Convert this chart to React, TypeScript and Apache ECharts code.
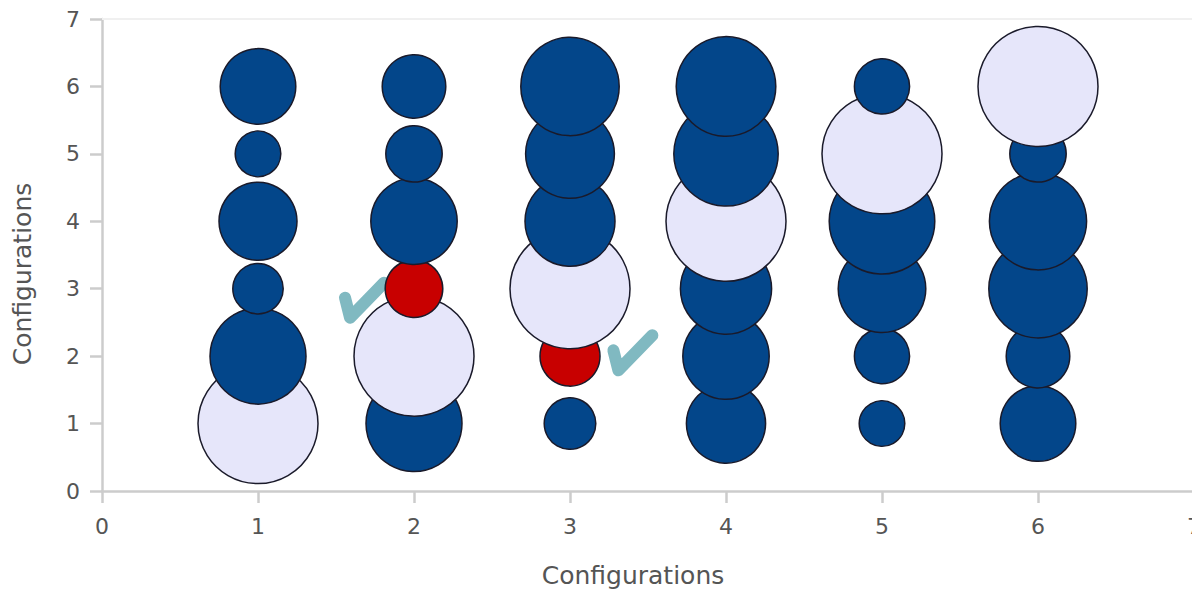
import React, { useEffect, useRef } from "react";
import * as echarts from "echarts";

// Configurations on the x axis, levels on the y axis
const configurations = [1, 2, 3, 4, 5, 6];
const levels = [1, 2, 3, 4, 5, 6];
const xTicks = [0, 1, 2, 3, 4, 5, 6, 7];
const yTicks = [0, 1, 2, 3, 4, 5, 6, 7];

// bubble scores per configuration (rows) for levels 1..6 (columns)
const scores: number[][] = [
  [100, 80, 42, 65, 38, 63],
  [80, 100, 48, 72, 47, 53],
  [43, 50, 100, 75, 74, 82],
  [66, 72, 76, 100, 87, 83],
  [38, 46, 73, 88, 100, 46],
  [63, 53, 82, 81, 47, 100],
];

// highlighted (lavender) and flagged (red) cells: [configuration, level]
const selectedCells = [
  [1, 1],
  [2, 2],
  [3, 3],
  [4, 4],
  [5, 5],
  [6, 6],
];
const flaggedCells = [
  [2, 3],
  [3, 2],
];

// check mark anchors (data coordinates of the check's lower vertex)
const checkMarks = [
  [1.59, 2.57],
  [3.31, 1.79],
];

const axisName = "Configurations";

const DARK = "#03468a";
const LAVENDER = "#e6e6fa";
const RED = "#c80000";
const TEAL = "#80b9c1";
const FONT = "DejaVu Sans";

const isIn = (cells: number[][], c: number, l: number) =>
  cells.some((p) => p[0] === c && p[1] === l);

export default function App() {
  const ref = useRef<HTMLDivElement>(null);

  useEffect(() => {
    if (!ref.current) return;
    const chart = echarts.init(ref.current, undefined, { renderer: "svg" });

    const bubbleData: any[] = [];
    configurations.forEach((c, i) => {
      levels.forEach((l, j) => {
        let color = DARK;
        if (isIn(selectedCells, c, l)) color = LAVENDER;
        else if (isIn(flaggedCells, c, l)) color = RED;
        bubbleData.push({
          value: [c, l, scores[i][j]],
          itemStyle: { color },
        });
      });
    });

    const axisLineStyle = { color: "#cccccc", width: 2.5 };

    chart.setOption({
      animation: false,
      backgroundColor: "#ffffff",
      grid: {
        left: 102,
        top: 19,
        width: 1092,
        height: 472,
        containLabel: false,
        outerBoundsMode: "none",
      },
      xAxis: [
        {
          type: "value",
          min: xTicks[0],
          max: xTicks[xTicks.length - 1],
          interval: 1,
          axisLine: { show: true, onZero: false, lineStyle: axisLineStyle },
          axisTick: { show: true, length: 12, lineStyle: axisLineStyle },
          axisLabel: { margin: 24, fontSize: 22, color: "#555555", fontFamily: FONT },
          splitLine: { show: false },
        },
        {
          type: "value",
          position: "top",
          min: xTicks[0],
          max: xTicks[xTicks.length - 1],
          interval: 1,
          axisLine: { show: true, onZero: false, lineStyle: { color: "#f0f0f0", width: 2 } },
          axisTick: { show: false },
          axisLabel: { show: false },
          splitLine: { show: false },
        },
      ],
      yAxis: {
        type: "value",
        min: yTicks[0],
        max: yTicks[yTicks.length - 1],
        interval: 1,
        axisLine: { show: true, onZero: false, lineStyle: axisLineStyle },
        axisTick: { show: true, length: 12, lineStyle: axisLineStyle },
        axisLabel: { margin: 22, fontSize: 22, color: "#555555", fontFamily: FONT },
        splitLine: { show: false },
      },
      graphic: [
        {
          type: "text",
          x: 633,
          y: 575,
          style: {
            text: axisName,
            font: `25px "${FONT}"`,
            fill: "#555555",
            align: "center",
            verticalAlign: "middle",
          },
        },
        {
          type: "text",
          x: 22,
          y: 274,
          rotation: Math.PI / 2,
          style: {
            text: axisName,
            font: `25px "${FONT}"`,
            fill: "#555555",
            align: "center",
            verticalAlign: "middle",
          },
        },
      ],
      series: [
        {
          type: "scatter",
          xAxisIndex: 0,
          yAxisIndex: 0,
          clip: false,
          data: bubbleData,
          symbolSize: (val: number[]) => val[2] * 1.2,
          itemStyle: { borderColor: "#1a1a2a", borderWidth: 1.5, opacity: 1 },
          emphasis: { disabled: true },
        },
        {
          type: "custom",
          xAxisIndex: 0,
          yAxisIndex: 0,
          data: checkMarks,
          renderItem: (params: any, api: any) => {
            const p = api.coord([api.value(0), api.value(1)]);
            return {
              type: "polyline",
              shape: {
                points: [
                  [p[0] - 5, p[1] - 20],
                  [p[0], p[1]],
                  [p[0] + 34, p[1] - 35],
                ],
              },
              style: {
                stroke: TEAL,
                lineWidth: 12,
                fill: null,
                lineCap: "round",
                lineJoin: "round",
              },
            };
          },
        },
      ],
    });

    return () => chart.dispose();
  }, []);

  return (
    <div
      ref={ref}
      style={{ position: "fixed", left: 0, top: 0, width: 1192, height: 591 }}
    />
  );
}
